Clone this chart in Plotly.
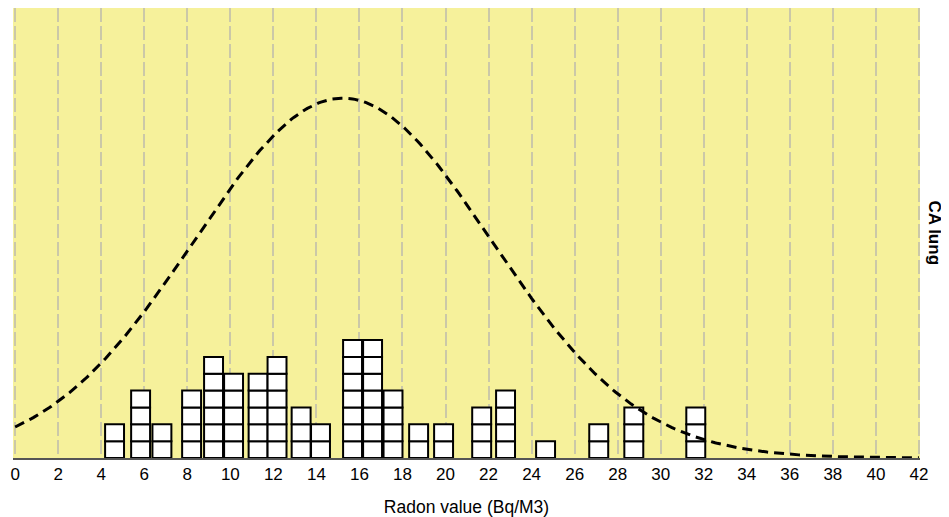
import numpy as np
import plotly.graph_objects as go

# Dot-plot columns: radon value (Bq/M3) of each stacked column and number of cases
radon_values = [4.62, 5.83, 6.82, 8.20, 9.22, 10.15, 11.29, 12.17, 13.29, 14.19,
                15.68, 16.61, 17.56, 18.75, 19.91, 21.68, 22.79, 24.65, 27.12, 28.75, 31.63]
case_counts = [2, 4, 2, 4, 6, 5, 5, 6, 3, 2,
               7, 7, 4, 2, 2, 3, 4, 1, 2, 3, 3]
tick_values = list(range(0, 43, 2))
tick_labels = [str(v) for v in tick_values]
curve_peak = 21.35  # height of the normal-curve peak, in stacked-square units

# expand into individual squares
sq_x, sq_base = [], []
for v, c in zip(radon_values, case_counts):
    for k in range(c):
        sq_x.append(v)
        sq_base.append(k)

# normal curve fitted to the data
vals = np.repeat(radon_values, case_counts)
mu = vals.mean()
sd = vals.std(ddof=1)
xc = np.linspace(0, 42, 400)
yc = curve_peak * np.exp(-((xc - mu) ** 2) / (2 * sd ** 2))

fig = go.Figure()
fig.add_trace(go.Scatter(
    x=xc, y=yc, mode="lines",
    line=dict(color="black", width=3, dash="10px,6px"),
    hoverinfo="skip", showlegend=False, cliponaxis=False,
))
fig.add_trace(go.Bar(
    x=sq_x, y=[1] * len(sq_x), base=sq_base, width=0.88,
    marker=dict(color="white", line=dict(color="black", width=2)),
    showlegend=False,
))

fig.update_layout(
    width=941, height=509,
    margin=dict(l=5, r=29, t=0, b=59),
    paper_bgcolor="white",
    plot_bgcolor="#f6f19b",
    barmode="overlay",
    font=dict(family="Liberation Sans, Arial, sans-serif", size=17, color="black"),
    xaxis=dict(
        range=[-0.1, 42.05],
        tickmode="array", tickvals=tick_values, ticktext=tick_labels,
        showgrid=True, gridcolor="#cbc8a8", gridwidth=1.5, griddash="14px,4px",
        zeroline=False,
        showline=True, linecolor="#555555", linewidth=1.5,
        ticks="", tickfont=dict(size=17),
        title=dict(text="Radon value (Bq/M3)", font=dict(size=17.5), standoff=21),
    ),
    yaxis=dict(
        range=[0, 26.7], showticklabels=False, showgrid=False,
        zeroline=False, showline=False, ticks="",
    ),
    annotations=[dict(
        text="<b>CA lung</b>", textangle=90,
        xref="paper", yref="paper", x=1.0, y=0.5,
        xanchor="left", yanchor="middle", xshift=3,
        showarrow=False, font=dict(size=17, color="black"),
    )],
)

fig.write_html("out.html")
